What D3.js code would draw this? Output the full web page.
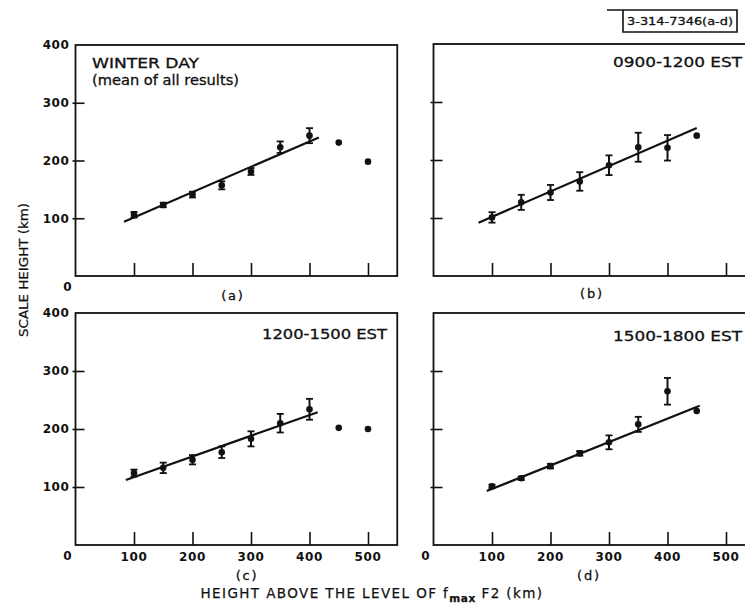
<!DOCTYPE html>
<html><head><meta charset="utf-8">
<script src="https://cdn.jsdelivr.net/npm/d3@7"></script>
<style>
html,body{margin:0;padding:0;background:#fff;}
svg{display:block;}
text{font-family:"DejaVu Sans",sans-serif;fill:#111;}
</style></head>
<body>
<svg id="chart" width="745" height="615"></svg>
<script>
// ---- data ----
const xTicks = [100, 200, 300, 400, 500];
const yTicks = [100, 200, 300, 400];

const heightsA = [100, 150, 200, 250, 300, 350, 400, 450, 500];
const scaleA   = [106, 123, 141, 157, 181, 223, 243, 231, 198];
const errA     = [5, 4, 5, 7, 6, 10, 13, 0, 0];
const fitA     = [[83, 94], [416, 240]];

const heightsB = [100, 150, 200, 250, 300, 350, 400, 450];
const scaleB   = [101, 127, 144, 163, 191, 222, 221, 242];
const errB     = [9, 13, 13, 16, 17, 25, 22, 0];
const fitB     = [[77, 92], [450, 255]];

const heightsC = [100, 150, 200, 250, 300, 350, 400, 450, 500];
const scaleC   = [124, 133, 147, 160, 183, 210, 234, 202, 200];
const errC     = [6, 9, 8, 10, 13, 16, 18, 0, 0];
const fitC     = [[86, 112], [414, 229]];

const heightsD = [100, 150, 200, 250, 300, 350, 400, 450];
const scaleD   = [101, 115, 136, 158, 177, 208, 265, 231];
const errD     = [3, 3, 4, 4, 12, 13, 23, 0];
const fitD     = [[91, 93], [455, 240]];

const panelTitles = [["WINTER DAY", "(mean of all results)"], ["0900-1200 EST"], ["1200-1500 EST"], ["1500-1800 EST"]];
const panelTags = ["(a)", "(b)", "(c)", "(d)"];

// ---- layout ----
const svg = d3.select("#chart");
const panels = [
  {h: heightsA, s: scaleA, e: errA, fit: fitA, left: 75.5, top: 45, bot: 276, yLabels: true, xLabels: false, zero: true, tagY: 295, tagX: 233, titleAnchor: "start", titleX: 92, titleY: 63, titleW: [107, 147]},
  {h: heightsB, s: scaleB, e: errB, fit: fitB, left: 433.5, top: 44, bot: 276, yLabels: false, xLabels: false, zero: false, tagY: 293, tagX: 592, titleAnchor: "end", titleX: 742, titleY: 62, titleW: [129]},
  {h: heightsC, s: scaleC, e: errC, fit: fitC, left: 75.5, top: 313, bot: 545, yLabels: true, xLabels: true, zero: true, tagY: 575, tagX: 247, titleAnchor: "end", titleX: 387, titleY: 334, titleW: [125]},
  {h: heightsD, s: scaleD, e: errD, fit: fitD, left: 433.5, top: 313, bot: 545, yLabels: false, xLabels: true, zero: true, tagY: 575, tagX: 589, titleAnchor: "end", titleX: 742, titleY: 336, titleW: [129]}
];

panels.forEach((p, i) => {
  const x = d3.scaleLinear().domain([0, 550]).range([p.left, p.left + 550 * 0.585]);
  const y = d3.scaleLinear().domain([0, 400]).range([p.bot, p.top]);
  const g = svg.append("g");

  // frame
  g.append("rect")
    .attr("x", x(0)).attr("y", y(400))
    .attr("width", x(550) - x(0)).attr("height", y(0) - y(400))
    .attr("fill", "none").attr("stroke", "#111").attr("stroke-width", 1.8);

  // y axis ticks (inward)
  const ya = d3.axisRight(y).tickValues(yTicks.slice(0, 3)).tickSize(12).tickFormat("");
  g.append("g").attr("transform", `translate(${x(0) - 3},0)`).call(ya)
    .call(s => s.select(".domain").remove())
    .call(s => s.selectAll("line").attr("stroke", "#111").attr("stroke-width", 1.6));

  // x axis ticks (inward)
  const xa = d3.axisTop(x).tickValues(xTicks).tickSize(13).tickFormat("");
  g.append("g").attr("transform", `translate(0,${y(0)})`).call(xa)
    .call(s => s.select(".domain").remove())
    .call(s => s.selectAll("line").attr("stroke", "#111").attr("stroke-width", 1.6));

  if (p.yLabels) {
    g.selectAll(".yl").data(yTicks).enter().append("text")
      .attr("x", x(0) - 6).attr("y", d => y(d)).attr("dy", "0.36em")
      .attr("text-anchor", "end").attr("font-size", 12).attr("font-weight", "bold")
      .attr("letter-spacing", 0.6)
      .text(d => d);
  }
  if (p.xLabels) {
    g.selectAll(".xl").data(xTicks).enter().append("text")
      .attr("x", d => x(d)).attr("y", y(0) + 12).attr("dy", "0.36em")
      .attr("text-anchor", "middle").attr("font-size", 12).attr("font-weight", "bold")
      .attr("letter-spacing", 0.6)
      .text(d => d);
  }
  if (p.zero) {
    g.append("text").attr("x", x(0) - 8).attr("y", y(0) + 11).attr("dy", "0.36em")
      .attr("text-anchor", "middle").attr("font-size", 12).attr("font-weight", "bold").text("0");
  }

  // fitted line
  g.append("path")
    .attr("d", d3.line().x(d => x(d[0])).y(d => y(d[1]))(p.fit))
    .attr("fill", "none").attr("stroke", "#111").attr("stroke-width", 2.2);

  const pts = p.h.map((h, k) => ({h: h, v: p.s[k], e: p.e[k]}));
  const eb = pts.filter(d => d.e > 0);
  g.selectAll(".eb").data(eb).enter().append("line")
    .attr("x1", d => x(d.h)).attr("x2", d => x(d.h))
    .attr("y1", d => y(d.v - d.e)).attr("y2", d => y(d.v + d.e))
    .attr("stroke", "#111").attr("stroke-width", 2);
  ["top", "bottom"].forEach(side => {
    g.selectAll(".cap" + side).data(eb).enter().append("line")
      .attr("x1", d => x(d.h) - 3.5).attr("x2", d => x(d.h) + 3.5)
      .attr("y1", d => y(side === "top" ? d.v + d.e : d.v - d.e))
      .attr("y2", d => y(side === "top" ? d.v + d.e : d.v - d.e))
      .attr("stroke", "#111").attr("stroke-width", 1.8);
  });
  g.selectAll(".pt").data(pts).enter().append("circle")
    .attr("cx", d => x(d.h)).attr("cy", d => y(d.v)).attr("r", 3.3).attr("fill", "#111");

  // titles
  panelTitles[i].forEach((t, k) => {
    g.append("text").attr("x", p.titleX).attr("y", p.titleY + k * 17).attr("dy", "0.36em")
      .attr("text-anchor", p.titleAnchor)
      .attr("font-size", 13.5).attr("stroke", "#111").attr("stroke-width", 0.3)
      .attr("textLength", p.titleW[k]).attr("lengthAdjust", "spacingAndGlyphs")
      .text(t);
  });
  g.append("text").attr("x", p.tagX).attr("y", p.tagY).attr("dy", "0.36em")
    .attr("text-anchor", "middle").attr("font-size", 13).attr("letter-spacing", 1.8)
    .attr("stroke", "#111").attr("stroke-width", 0.3).text(panelTags[i]);
});

// axis titles
svg.append("text").attr("transform", "translate(23,270) rotate(-90)")
  .attr("text-anchor", "middle").attr("dy", "0.36em").attr("font-size", 13)
  .attr("stroke", "#111").attr("stroke-width", 0.25)
  .attr("textLength", 134).attr("lengthAdjust", "spacingAndGlyphs").text("SCALE HEIGHT (km)");

const xt = svg.append("text").attr("x", 372).attr("y", 598).attr("text-anchor", "middle")
  .attr("font-size", 13.5).attr("letter-spacing", 1.4).attr("stroke", "#111").attr("stroke-width", 0.25);
xt.append("tspan").text("HEIGHT ABOVE THE LEVEL OF f");
xt.append("tspan").attr("dy", 4).attr("font-size", 10.5).attr("font-weight", "bold").attr("letter-spacing", 0.6).text("max");
xt.append("tspan").attr("dy", -4).text(" F2 (km)");

// figure id box
svg.append("path").attr("d", "M607,10 H737 V32 H623 V10")
  .attr("fill", "none").attr("stroke", "#111").attr("stroke-width", 1.6);
svg.append("text").attr("x", 680).attr("y", 21).attr("dy", "0.36em").attr("text-anchor", "middle")
  .attr("font-size", 11).attr("textLength", 106).attr("lengthAdjust", "spacingAndGlyphs")
  .attr("stroke", "#111").attr("stroke-width", 0.3)
  .text("3-314-7346(a-d)");
</script>
</body></html>
